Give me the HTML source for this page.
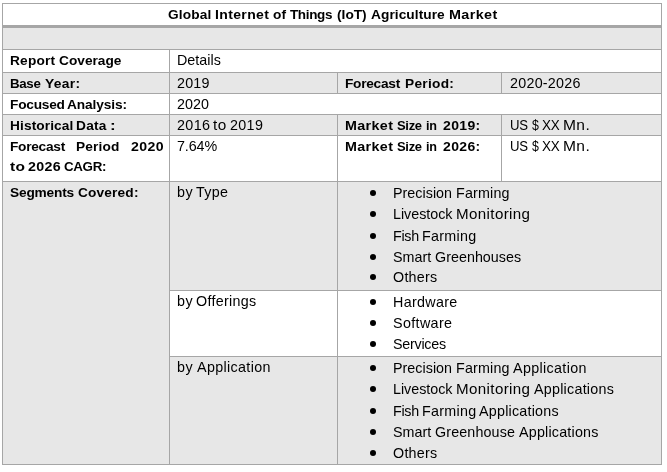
<!DOCTYPE html>
<html><head><meta charset="utf-8"><title>Global Internet of Things (IoT) Agriculture Market</title>
<style>
html,body{margin:0;padding:0;background:#fff;}
body{width:667px;height:472px;position:relative;overflow:hidden;font-family:"Liberation Sans",sans-serif;font-size:14.3px;color:#000;}
.g{position:absolute;background:#e7e7e7;}
.h{position:absolute;height:1px;background:#a6a6a6;}
.v{position:absolute;width:1px;background:#a6a6a6;}
.t{position:absolute;white-space:pre;line-height:16px;height:16px;transform-origin:0 0;}
.b{font-weight:700;color:#000;font-size:13.7px;}
.d{position:absolute;width:6px;height:6px;border-radius:50%;background:#000;}
#w{position:absolute;left:0;top:0;width:667px;height:472px;will-change:transform;}
</style></head><body><div id="w">

<div class="g" style="left:3px;top:28px;width:658px;height:21px"></div>
<div class="g" style="left:3px;top:73px;width:658px;height:20px"></div>
<div class="g" style="left:3px;top:115px;width:658px;height:20px"></div>
<div class="g" style="left:3px;top:182px;width:658px;height:108px"></div>
<div class="g" style="left:3px;top:290px;width:167px;height:174px"></div>
<div class="g" style="left:170px;top:357px;width:491px;height:107px"></div>
<div class="h" style="left:2px;top:3px;width:660px;height:1px"></div>
<div class="h" style="left:2px;top:25px;width:660px;height:3px"></div>
<div class="h" style="left:2px;top:49px;width:660px;height:1px"></div>
<div class="h" style="left:2px;top:72px;width:660px;height:1px"></div>
<div class="h" style="left:2px;top:93px;width:660px;height:1px"></div>
<div class="h" style="left:2px;top:114px;width:660px;height:1px"></div>
<div class="h" style="left:2px;top:135px;width:660px;height:1px"></div>
<div class="h" style="left:2px;top:181px;width:660px;height:1px"></div>
<div class="h" style="left:169px;top:290px;width:493px;height:1px"></div>
<div class="h" style="left:169px;top:356px;width:493px;height:1px"></div>
<div class="h" style="left:2px;top:464px;width:660px;height:1px"></div>
<div class="v" style="left:2px;top:3px;height:462px"></div>
<div class="v" style="left:661px;top:3px;height:462px"></div>
<div class="v" style="left:169px;top:49px;height:416px"></div>
<div class="v" style="left:337px;top:72px;height:21px"></div>
<div class="v" style="left:501px;top:72px;height:21px"></div>
<div class="v" style="left:337px;top:114px;height:351px"></div>
<div class="v" style="left:501px;top:114px;height:67px"></div>
<div class="t b" style="left:168px;top:7px;letter-spacing:0.13px;">Global</div>
<div class="t b" style="left:215px;top:7px;letter-spacing:0.35px;transform:scaleX(1.023);">Internet</div>
<div class="t b" style="left:273px;top:7px;letter-spacing:0.07px;">of</div>
<div class="t b" style="left:290px;top:7px;letter-spacing:-0.35px;transform:scaleX(0.983);">Things</div>
<div class="t b" style="left:337px;top:7px;letter-spacing:0.01px;">(IoT)</div>
<div class="t b" style="left:371px;top:7px;letter-spacing:0.07px;">Agriculture</div>
<div class="t b" style="left:449px;top:7px;letter-spacing:0.35px;transform:scaleX(1.050);">Market</div>
<div class="t b" style="left:10px;top:53px;letter-spacing:0.20px;">Report</div>
<div class="t b" style="left:59px;top:53px;letter-spacing:0.01px;">Coverage</div>
<div class="t" style="left:177px;top:52px;letter-spacing:0.02px;">Details</div>
<div class="t b" style="left:10px;top:76px;letter-spacing:-0.35px;transform:scaleX(0.972);">Base</div>
<div class="t b" style="left:45px;top:76px;letter-spacing:0.35px;transform:scaleX(1.009);">Year:</div>
<div class="t" style="left:177px;top:75px;letter-spacing:0.21px;">2019</div>
<div class="t b" style="left:345px;top:76px;letter-spacing:-0.26px;">Forecast</div>
<div class="t b" style="left:405px;top:76px;letter-spacing:0.28px;">Period:</div>
<div class="t" style="left:510px;top:75px;letter-spacing:0.26px;">2020-2026</div>
<div class="t b" style="left:10px;top:97px;letter-spacing:-0.22px;">Focused</div>
<div class="t b" style="left:67px;top:97px;letter-spacing:-0.10px;">Analysis:</div>
<div class="t" style="left:177px;top:96px;letter-spacing:0.06px;">2020</div>
<div class="t b" style="left:10px;top:118px;letter-spacing:0.11px;">Historical</div>
<div class="t b" style="left:76px;top:118px;letter-spacing:0.26px;">Data</div>
<div class="t b" style="left:110px;top:118px;transform:scaleX(1.250);">:</div>
<div class="t" style="left:177px;top:117px;letter-spacing:0.35px;transform:scaleX(1.004);">2016</div>
<div class="t" style="left:213px;top:117px;letter-spacing:0.35px;transform:scaleX(1.074);">to</div>
<div class="t" style="left:230px;top:117px;letter-spacing:0.35px;transform:scaleX(1.001);">2019</div>
<div class="t b" style="left:345px;top:118px;letter-spacing:0.35px;transform:scaleX(1.045);">Market</div>
<div class="t b" style="left:397px;top:118px;letter-spacing:-0.35px;transform:scaleX(0.951);">Size</div>
<div class="t b" style="left:426px;top:118px;letter-spacing:-0.35px;transform:scaleX(0.922);">in</div>
<div class="t b" style="left:443px;top:118px;letter-spacing:0.35px;transform:scaleX(1.022);">2019:</div>
<div class="t" style="left:510px;top:117px;letter-spacing:-0.35px;transform:scaleX(0.921);">US</div>
<div class="t" style="left:532px;top:117px;transform:scaleX(0.862);">$</div>
<div class="t" style="left:542px;top:117px;letter-spacing:-0.35px;transform:scaleX(0.941);">XX</div>
<div class="t" style="left:563px;top:117px;letter-spacing:0.35px;transform:scaleX(1.089);">Mn.</div>
<div class="t b" style="left:10px;top:139px;letter-spacing:-0.26px;">Forecast</div>
<div class="t b" style="left:76px;top:139px;letter-spacing:0.16px;">Period</div>
<div class="t b" style="left:131px;top:139px;letter-spacing:0.35px;transform:scaleX(1.031);">2020</div>
<div class="t b" style="left:10px;top:159px;letter-spacing:0.35px;transform:scaleX(1.131);">to</div>
<div class="t b" style="left:28px;top:159px;letter-spacing:0.35px;transform:scaleX(1.041);">2026</div>
<div class="t b" style="left:64px;top:159px;letter-spacing:-0.35px;transform:scaleX(0.976);">CAGR:</div>
<div class="t" style="left:177px;top:138px;letter-spacing:-0.10px;">7.64%</div>
<div class="t b" style="left:345px;top:139px;letter-spacing:0.35px;transform:scaleX(1.045);">Market</div>
<div class="t b" style="left:397px;top:139px;letter-spacing:-0.35px;transform:scaleX(0.951);">Size</div>
<div class="t b" style="left:426px;top:139px;letter-spacing:-0.35px;transform:scaleX(0.922);">in</div>
<div class="t b" style="left:443px;top:139px;letter-spacing:0.35px;transform:scaleX(1.022);">2026:</div>
<div class="t" style="left:510px;top:138px;letter-spacing:-0.35px;transform:scaleX(0.921);">US</div>
<div class="t" style="left:532px;top:138px;transform:scaleX(0.862);">$</div>
<div class="t" style="left:542px;top:138px;letter-spacing:-0.35px;transform:scaleX(0.941);">XX</div>
<div class="t" style="left:563px;top:138px;letter-spacing:0.35px;transform:scaleX(1.089);">Mn.</div>
<div class="t b" style="left:10px;top:185px;letter-spacing:-0.18px;">Segments</div>
<div class="t b" style="left:78px;top:185px;letter-spacing:0.16px;">Covered:</div>
<div class="t" style="left:177px;top:184px;letter-spacing:0.47px;">by</div>
<div class="t" style="left:196px;top:184px;letter-spacing:0.31px;">Type</div>
<div class="t" style="left:393px;top:185px;letter-spacing:0.03px;">Precision</div>
<div class="t" style="left:456px;top:185px;letter-spacing:0.18px;">Farming</div>
<div class="t" style="left:393px;top:206px;letter-spacing:-0.02px;">Livestock</div>
<div class="t" style="left:456px;top:206px;letter-spacing:0.35px;transform:scaleX(1.059);">Monitoring</div>
<div class="t" style="left:393px;top:228px;letter-spacing:-0.27px;">Fish</div>
<div class="t" style="left:422px;top:228px;letter-spacing:0.30px;">Farming</div>
<div class="t" style="left:393px;top:249px;">Smart</div>
<div class="t" style="left:435px;top:249px;letter-spacing:0.03px;">Greenhouses</div>
<div class="t" style="left:393px;top:269px;letter-spacing:0.26px;">Others</div>
<div class="t" style="left:177px;top:293px;letter-spacing:0.47px;">by</div>
<div class="t" style="left:196px;top:293px;letter-spacing:0.30px;">Offerings</div>
<div class="t" style="left:393px;top:294px;letter-spacing:0.32px;">Hardware</div>
<div class="t" style="left:393px;top:315px;letter-spacing:0.35px;transform:scaleX(1.003);">Software</div>
<div class="t" style="left:393px;top:336px;letter-spacing:-0.25px;">Services</div>
<div class="t" style="left:177px;top:359px;letter-spacing:0.47px;">by</div>
<div class="t" style="left:197px;top:359px;letter-spacing:0.35px;">Application</div>
<div class="t" style="left:393px;top:360px;letter-spacing:0.03px;">Precision</div>
<div class="t" style="left:456px;top:360px;letter-spacing:0.18px;">Farming</div>
<div class="t" style="left:513px;top:360px;letter-spacing:0.35px;">Application</div>
<div class="t" style="left:393px;top:381px;letter-spacing:-0.02px;">Livestock</div>
<div class="t" style="left:456px;top:381px;letter-spacing:0.35px;transform:scaleX(1.059);">Monitoring</div>
<div class="t" style="left:534px;top:381px;letter-spacing:0.25px;">Applications</div>
<div class="t" style="left:393px;top:403px;letter-spacing:-0.27px;">Fish</div>
<div class="t" style="left:422px;top:403px;letter-spacing:0.30px;">Farming</div>
<div class="t" style="left:479px;top:403px;letter-spacing:0.23px;">Applications</div>
<div class="t" style="left:393px;top:424px;">Smart</div>
<div class="t" style="left:435px;top:424px;letter-spacing:0.14px;">Greenhouse</div>
<div class="t" style="left:519px;top:424px;letter-spacing:0.21px;">Applications</div>
<div class="t" style="left:393px;top:445px;letter-spacing:0.26px;">Others</div>
<div class="d" style="left:369.7px;top:189.9px"></div>
<div class="d" style="left:369.7px;top:210.9px"></div>
<div class="d" style="left:369.7px;top:232.9px"></div>
<div class="d" style="left:369.7px;top:253.9px"></div>
<div class="d" style="left:369.7px;top:273.9px"></div>
<div class="d" style="left:369.7px;top:298.9px"></div>
<div class="d" style="left:369.7px;top:319.9px"></div>
<div class="d" style="left:369.7px;top:340.9px"></div>
<div class="d" style="left:369.7px;top:364.9px"></div>
<div class="d" style="left:369.7px;top:385.9px"></div>
<div class="d" style="left:369.7px;top:407.9px"></div>
<div class="d" style="left:369.7px;top:428.9px"></div>
<div class="d" style="left:369.7px;top:449.9px"></div>
</div></body></html>
